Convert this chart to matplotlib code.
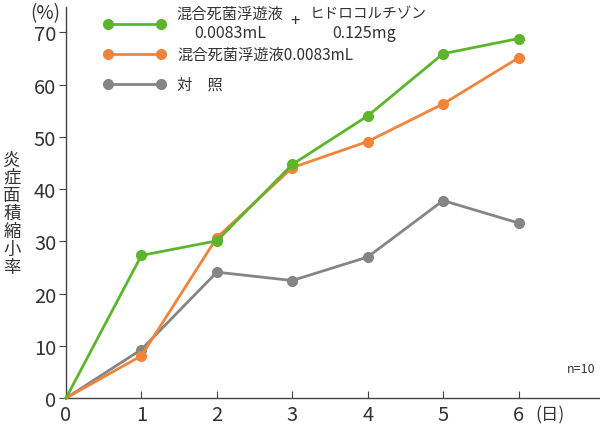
import matplotlib
matplotlib.use("Agg")
import matplotlib.pyplot as plt
from matplotlib.lines import Line2D

plt.rcParams['font.family'] = ['Noto Sans CJK JP', 'DejaVu Sans']

# データ
days = [0, 1, 2, 3, 4, 5, 6]
combo = [0, 27.3, 30.1, 44.7, 54.0, 65.9, 68.8]      # 混合死菌浮遊液 + ヒドロコルチゾン
mixed = [0, 8.1, 30.7, 44.1, 49.1, 56.3, 65.1]      # 混合死菌浮遊液のみ
control = [0, 9.3, 24.1, 22.5, 27.0, 37.8, 33.5]    # 対照
yticks = [0, 10, 20, 30, 40, 50, 60, 70]

c_green = '#5cb52b'
c_orange = '#f0843a'
c_gray = '#858585'
c_text = '#333333'

fig = plt.figure(figsize=(6, 4.31), dpi=100)
ax = fig.add_axes([0.11, 0.074, 0.89, 0.907])

kw = dict(lw=2.0, marker='o', ms=7, clip_on=False)
ax.plot(days[1:], control[1:], color=c_gray, zorder=3, **kw)
ax.plot(days[:2], control[:2], color=c_gray, lw=2.0, zorder=3, clip_on=False)
ax.plot(days[1:], mixed[1:], color=c_orange, zorder=4, **kw)
ax.plot(days[:2], mixed[:2], color=c_orange, lw=2.0, zorder=4, clip_on=False)
ax.plot(days[1:], combo[1:], color=c_green, zorder=5, **kw)
ax.plot(days[:2], combo[:2], color=c_green, lw=2.0, zorder=5, clip_on=False)

ax.set_xlim(0, 7.08)
ax.set_ylim(0, 74.8)
ax.set_xticks(days)
ax.set_yticks(yticks)
for s in ['top', 'right']:
    ax.spines[s].set_visible(False)
for s in ['left', 'bottom']:
    ax.spines[s].set_color('#444444')
    ax.spines[s].set_linewidth(1.0)
ax.tick_params(axis='x', direction='in', length=5, color='#444444',
               labelsize=14.5, labelcolor=c_text, pad=4)
ax.tick_params(axis='y', direction='out', length=5, color='#444444',
               labelsize=14.5, labelcolor=c_text, pad=2)

# 軸ラベルなど
fig.text(45 / 600, 1 - 14 / 431, '(%)', fontsize=13.5, color=c_text, ha='center', va='center')
fig.text(12 / 600, 1 - 214 / 431, '炎\n症\n面\n積\n縮\n小\n率', fontsize=12.5,
         color=c_text, ha='center', va='center', linespacing=1.0)
fig.text(550 / 600, 1 - 415 / 431, '(日)', fontsize=12.5, color=c_text, ha='center', va='center')
fig.text(581 / 600, 1 - 370 / 431, 'n=10', fontsize=9, color=c_text, ha='center', va='center')

# 凡例（手描き）
def legend_line(y_px, color):
    y = 1 - y_px / 431
    fig.add_artist(Line2D([108 / 600, 161 / 600], [y, y], transform=fig.transFigure,
                          color=color, lw=2.0, marker='o', ms=7))

legend_line(25, c_green)
legend_line(55, c_orange)
legend_line(85, c_gray)

fs = 11
fig.text(230 / 600, 1 - 14 / 431, '混合死菌浮遊液', fontsize=fs, color=c_text, ha='center', va='center')
fig.text(230 / 600, 1 - 34 / 431, '0.0083mL', fontsize=fs + 0.5, color=c_text, ha='center', va='center')
fig.text(295 / 600, 1 - 22 / 431, '+', fontsize=fs + 1, color=c_text, ha='center', va='center')
fig.text(368 / 600, 1 - 14 / 431, 'ヒドロコルチゾン', fontsize=10.5, color=c_text, ha='center', va='center')
fig.text(364 / 600, 1 - 34 / 431, '0.125mg', fontsize=fs + 0.5, color=c_text, ha='center', va='center')
fig.text(177 / 600, 1 - 55 / 431, '混合死菌浮遊液0.0083mL', fontsize=fs, color=c_text, ha='left', va='center')
fig.text(177 / 600, 1 - 85 / 431, '対　照', fontsize=fs, color=c_text, ha='left', va='center')

fig.savefig('out.png', dpi=100)
